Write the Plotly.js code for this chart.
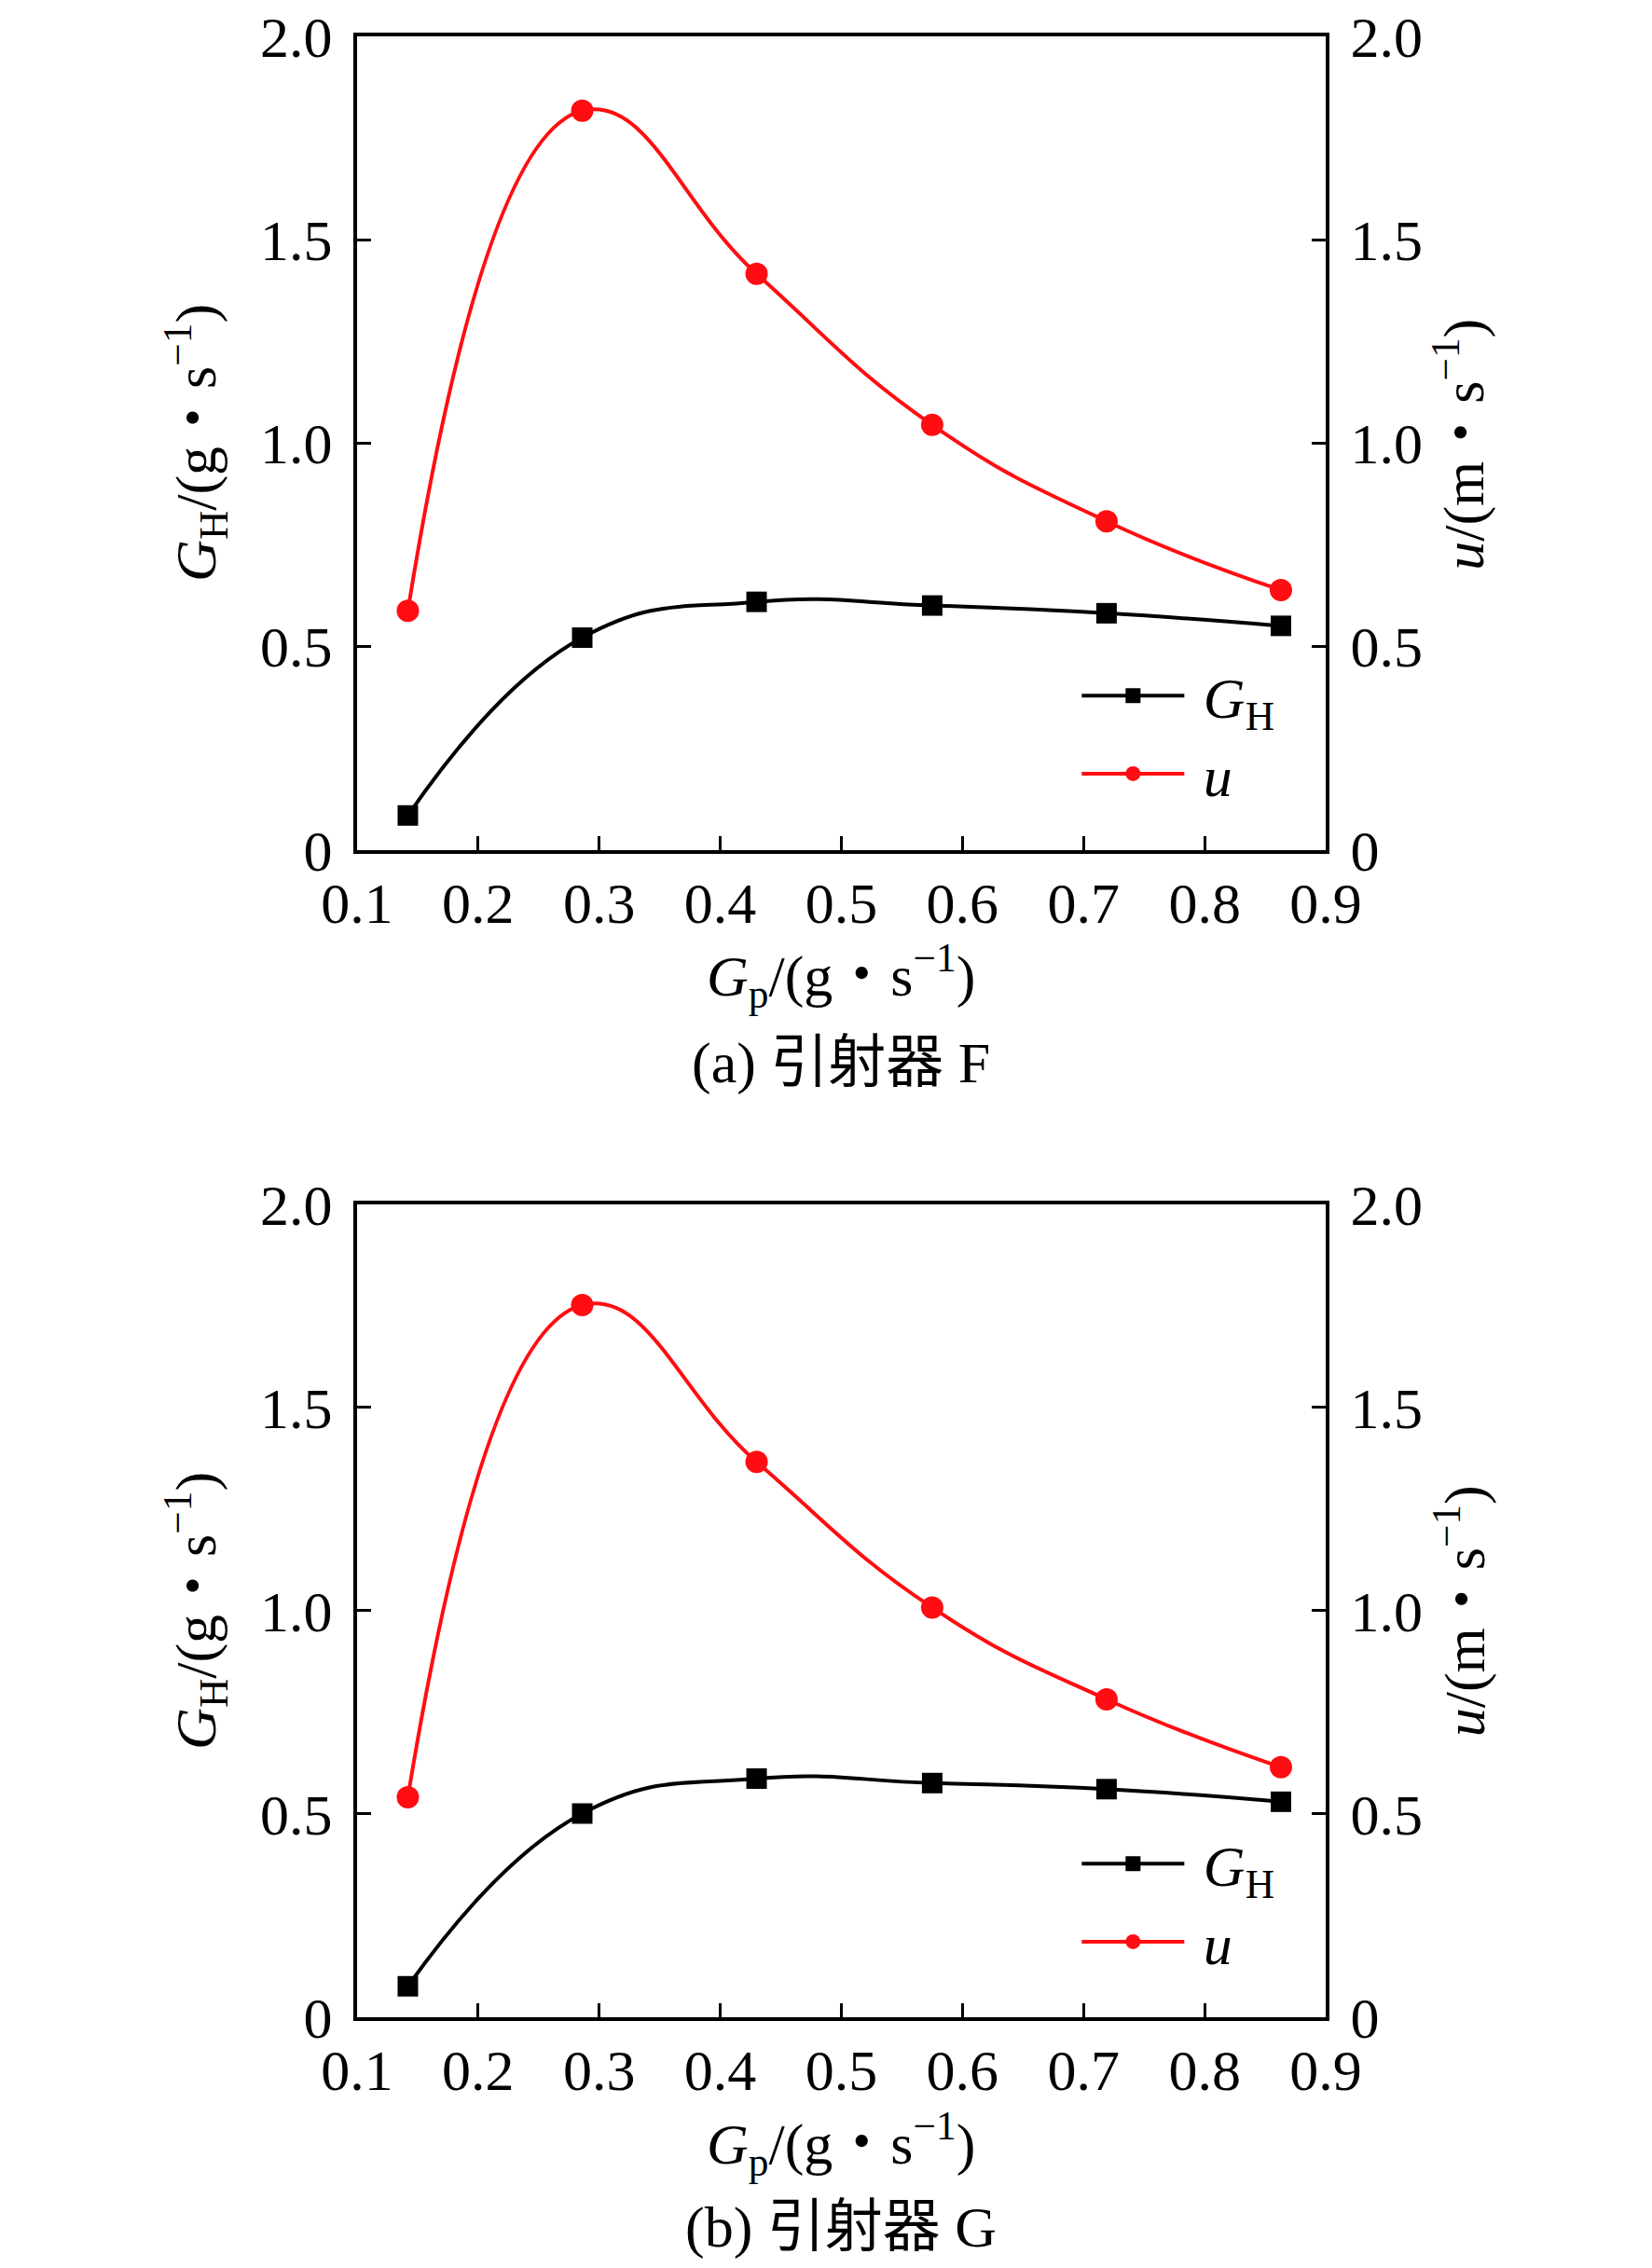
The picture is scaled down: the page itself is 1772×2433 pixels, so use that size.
<!DOCTYPE html>
<html lang="zh">
<head>
    <meta charset="UTF-8">
    <title>引射器 F / G</title>
    <script src="https://cdn.plot.ly/plotly-3.0.1.min.js"></script>
    <style>
        body { margin: 0; background: #fff; }
        #chart { width: 1772px; height: 2433px; }
    </style>
</head>
<body>
<div id="chart"></div>

<script>
    // primary flow rate Gp (g/s), same for both ejectors
    let gp = [0.142, 0.286, 0.430, 0.575, 0.719, 0.863];

    // (a) ejector F
    let ghF = [0.085, 0.522, 0.610, 0.601, 0.582, 0.551];
    let uF = [0.588, 1.817, 1.416, 1.045, 0.808, 0.639];

    // (b) ejector G
    let ghG = [0.076, 0.501, 0.587, 0.576, 0.561, 0.530];
    let uG = [0.541, 1.752, 1.366, 1.008, 0.782, 0.615];

    let xTicks = [0.1, 0.2, 0.3, 0.4, 0.5, 0.6, 0.7, 0.8, 0.9];
    let yTicks = [0, 0.5, 1.0, 1.5, 2.0];
    let yTickText = ['0', '0.5', '1.0', '1.5', '2.0'];

    let captions = ['(a) 引射器 F', '(b) 引射器 G'];

    let FONT = 'Liberation Serif, Times New Roman, Noto Sans CJK SC, serif';
    let RED = '#ff0d12';

    function ghTrace(y, xa, ya, leg) {
        return {
            x: gp, y: y, xaxis: xa, yaxis: ya, legend: leg,
            type: 'scatter', mode: 'lines+markers',
            name: '\u00a0<i>G</i><sub>H</sub>',
            line: {color: '#000', width: 4, shape: 'spline', smoothing: 1.3},
            marker: {symbol: 'square', size: 22, color: '#000'},
            cliponaxis: false
        };
    }

    function uTrace(y, xa, ya, leg) {
        return {
            x: gp, y: y, xaxis: xa, yaxis: ya, legend: leg,
            type: 'scatter', mode: 'lines+markers',
            name: '\u00a0<i>u</i>',
            line: {color: RED, width: 4, shape: 'spline', smoothing: 1.3},
            marker: {symbol: 'circle', size: 24, color: RED},
            cliponaxis: false
        };
    }

    function xAxis(anchor) {
        return {
            domain: [0.2161, 0.8025], anchor: anchor,
            range: [0.1, 0.9], tickvals: xTicks, ticktext: xTicks.map(v => v.toFixed(1)),
            ticks: 'inside', ticklen: 15, tickwidth: 3, tickcolor: '#000',
            showline: true, linewidth: 4, linecolor: '#000', mirror: true,
            showgrid: false, zeroline: false, ticklabelstandoff: 0,
            tickfont: {family: FONT, size: 62, color: '#000'}
        };
    }

    function yAxis(domain, anchor, side, overlay) {
        let ax = {
            domain: domain, anchor: anchor, side: side,
            range: [0, 2], tickvals: yTicks, ticktext: yTickText,
            ticks: 'inside', ticklen: 15, tickwidth: 3, tickcolor: '#000',
            showline: true, linewidth: 4, linecolor: '#000',
            showgrid: false, zeroline: false, ticklabelstandoff: 10,
            tickfont: {family: FONT, size: 62, color: '#000'}
        };
        if (overlay) ax.overlaying = overlay;
        return ax;
    }

    function note(text, x, y, angle) {
        return {
            text: text, xref: 'paper', yref: 'paper', x: x, y: y,
            xanchor: 'center', yanchor: 'middle', showarrow: false,
            textangle: angle || 0,
            font: {family: FONT, size: 62, color: '#000'}
        };
    }

    let data = [
        ghTrace(ghF, 'x', 'y', 'legend'),
        uTrace(uF, 'x', 'y2', 'legend'),
        ghTrace(ghG, 'x2', 'y3', 'legend2'),
        uTrace(uG, 'x2', 'y4', 'legend2')
    ];

    let legendStyle = {
        xanchor: 'left', yanchor: 'top', bgcolor: 'rgba(0,0,0,0)',
        itemwidth: 110, tracegroupgap: 0,
        font: {family: FONT, size: 62, color: '#000'}
    };

    let yTitleL = '<i>G</i><sub>H</sub>/(g・s<sup>−1</sup>)';
    let yTitleR = '<i>u</i>/(m・s<sup>−1</sup>)';
    let xTitle = '<i>G</i><sub>p</sub>/(g・s<sup>−1</sup>)';

    let layout = {
        width: 1772, height: 2433,
        margin: {l: 0, r: 0, t: 0, b: 0},
        paper_bgcolor: '#fff', plot_bgcolor: '#fff',
        showlegend: true,
        xaxis: xAxis('y'),
        yaxis: yAxis([0.6252, 0.984], 'x', 'left'),
        yaxis2: yAxis([0.6252, 0.984], 'x', 'right', 'y'),
        xaxis2: xAxis('y3'),
        yaxis3: yAxis([0.1106, 0.469], 'x2', 'left'),
        yaxis4: yAxis([0.1106, 0.469], 'x2', 'right', 'y3'),
        legend: Object.assign({x: 0.652, y: 0.7125}, legendStyle),
        legend2: Object.assign({x: 0.652, y: 0.1975}, legendStyle),
        annotations: [
            note(yTitleL, 0.1185, 0.8048, -90),
            note(yTitleR, 0.8837, 0.804, -90),
            note(xTitle, 0.5093, 0.5697),
            note(captions[0], 0.5093, 0.5314),
            note(yTitleL, 0.1185, 0.2898, -90),
            note(yTitleR, 0.8837, 0.2896, -90),
            note(xTitle, 0.5093, 0.0547),
            note(captions[1], 0.5093, 0.0177)
        ]
    };

    Plotly.newPlot('chart', data, layout, {displayModeBar: false, staticPlot: true});
</script>
</body>
</html>
